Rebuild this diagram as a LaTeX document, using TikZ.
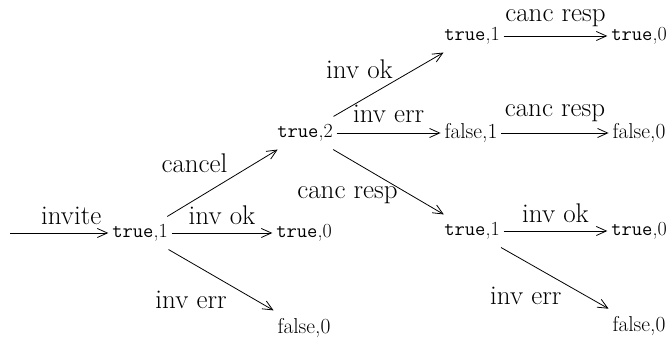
\documentclass[tikz,border=0pt]{standalone}
\usetikzlibrary{arrows.meta}
\begin{document}
\begin{tikzpicture}[x=1pt,y=1pt,
  st/.style={inner xsep=4pt, inner ysep=8pt, outer sep=0pt, font=\fontsize{20}{21}\selectfont},
  fs/.style={st, font=\fontsize{21.5}{22}\selectfont},
  lab/.style={font=\fontsize{27}{28}\selectfont, inner sep=0pt},
  tr/.style={-{Straight Barb[length=10pt,width=9pt]}, line width=0.8pt}]
\useasboundingbox (0,0) rectangle (670,342);
\coordinate (s) at (10,109);
\node[st] (a) at (140,109) {\texttt{true},1};
\node[st] (b) at (304,109) {\texttt{true},0};
\node[fs] (c) at (304,14) {false,0};
\node[st] (d) at (305,209) {\texttt{true},2};
\node[st] (e) at (472,306) {\texttt{true},1};
\node[st] (f) at (639,306) {\texttt{true},0};
\node[fs] (g) at (471,209) {false,1};
\node[fs] (h) at (639,209) {false,0};
\node[st] (i) at (472,111) {\texttt{true},1};
\node[st] (j) at (639,111) {\texttt{true},0};
\node[fs] (k) at (639,16) {false,0};
\draw[tr] (s) -- (a) node[lab, midway, shift={(12,17)}] {invite};
\draw[tr] (a) -- (b) node[lab, midway, shift={(0,18)}] {inv ok};
\draw[tr] (a) -- (c) node[lab, midway, shift={(-30,-20)}] {inv err};
\draw[tr] (a) -- (d) node[lab, midway, shift={(-28,20)}] {cancel};
\draw[tr] (d) -- (e) node[lab, midway, shift={(-29,15)}] {inv ok};
\draw[tr] (d) -- (g) node[lab, midway, shift={(0,19)}] {inv err};
\draw[tr] (d) -- (i) node[lab, midway, shift={(-41,-13)}] {canc resp};
\draw[tr] (e) -- (f) node[lab, midway, shift={(0,17.5)}] {canc resp};
\draw[tr] (g) -- (h) node[lab, midway, shift={(0,20)}] {canc resp};
\draw[tr] (i) -- (j) node[lab, midway, shift={(0,18)}] {inv ok};
\draw[tr] (i) -- (k) node[lab, midway, shift={(-29,-18)}] {inv err};
\end{tikzpicture}
\end{document}
